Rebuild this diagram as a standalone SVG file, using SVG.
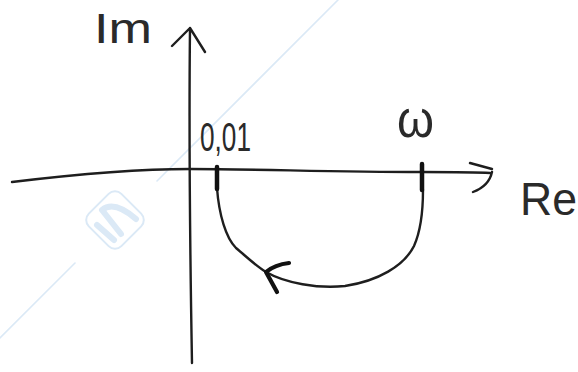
<svg xmlns="http://www.w3.org/2000/svg" width="578" height="372" viewBox="0 0 578 372">
<style>
.ink{fill:none;stroke:#1e1e1e;stroke-width:2.4;stroke-linecap:round;stroke-linejoin:round}
.tick{fill:none;stroke:#111;stroke-width:4.5;stroke-linecap:round}
.lbl{font-family:"Liberation Sans",Arial,sans-serif;fill:#2a2a2a}
.wm{fill:none;stroke:#dbe9f6;stroke-linecap:round}
</style>
<rect width="578" height="372" fill="#ffffff"/>
<g id="watermark">
<path class="wm" stroke-width="1.6" d="M338 0 L157 181 M75 263 L0 338"/>
<rect class="wm" stroke-width="2" x="92" y="197" width="46" height="46" rx="9" transform="rotate(45 115 220)"/>
<path class="wm" stroke-width="6" d="M97 225 L114 240 M102 210 L121 234 M102 210 Q114 200 136 219"/>
</g>
<g id="connectors">
<path id="im-axis" class="ink" d="M190 28 C189 120, 190 250, 192 363 M172 46 L190 28 L205 52"/>
<path id="re-axis" class="ink" d="M12 182 C70 175, 130 169, 190 169 C260 169, 330 172, 422 172 C455 172, 475 172, 490 173 M470 163 L492 169 M492 172 Q489 186 473 192"/>
<path id="locus" class="ink" d="M217 188 C219 215, 226 238, 236 248 C248 258, 256 266, 266 272 C285 283, 318 289, 345 286 C378 281, 404 266, 414 246 C422 228, 423 208, 423 190"/>
<path id="locus-arrow" class="ink" style="stroke-width:4.2;stroke:#111" d="M289 263 C280 264, 272 267, 266 272 L277 292"/>
<path class="tick" d="M217 167 L217 189 M422 164 L422 190"/>
</g>
<g id="label-im"><text class="lbl" x="94" y="43" font-size="42" textLength="58" lengthAdjust="spacingAndGlyphs">Im</text></g>
<g id="label-001"><text class="lbl" x="200" y="151" font-size="41" textLength="51" lengthAdjust="spacingAndGlyphs">0,01</text></g>
<g id="label-omega"><text class="lbl" x="397" y="137" font-size="52" textLength="37" lengthAdjust="spacingAndGlyphs">ω</text></g>
<g id="label-re"><text class="lbl" x="520" y="215" font-size="46" textLength="57" lengthAdjust="spacingAndGlyphs">Re</text></g>
</svg>
